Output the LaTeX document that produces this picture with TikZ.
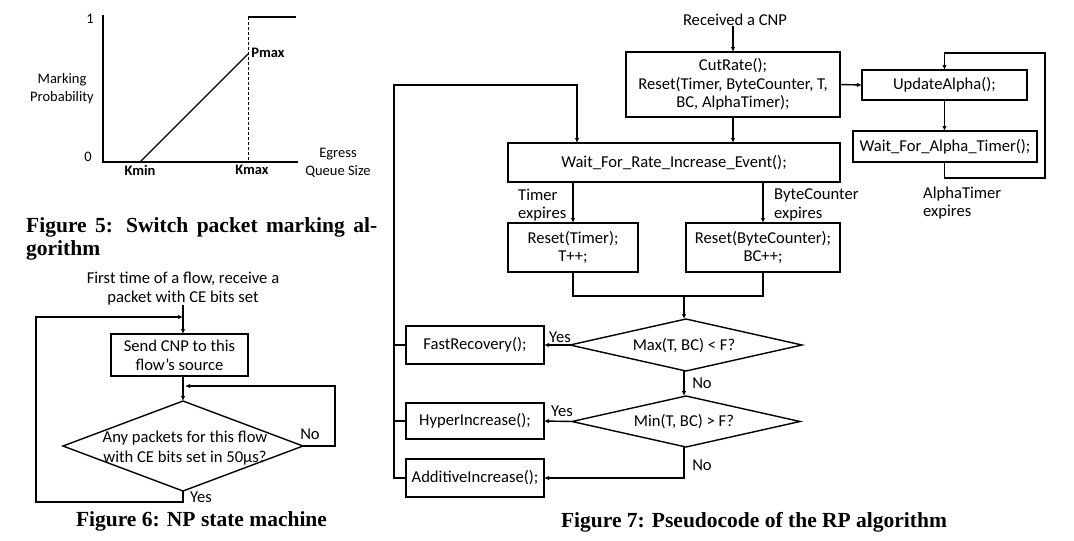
\documentclass[tikz,border=0pt]{standalone}
\usepackage{fontspec}
\setmainfont{Carlito}
\newfontfamily\capfont{Liberation Serif}
\usetikzlibrary{shapes.geometric,arrows.meta,calc}
\begin{document}
\begin{tikzpicture}[x=1pt,y=-1pt,
  every node/.style={font=\fontsize{16.6}{18.6}\selectfont},
  small/.style={font=\fontsize{14.5}{18}\selectfont},
  smallbf/.style={font=\fontsize{14.5}{18}\selectfont\bfseries},
  line/.style={line width=1.4pt},
  arr/.style={line width=1.4pt,-{Latex[length=5pt,width=4.5pt]}},
  box/.style={draw,line width=1.4pt,inner sep=0pt,outer sep=0pt,align=center},
  dia/.style={draw,diamond,line width=1.4pt,inner sep=0pt,outer sep=0pt},
  lbl/.style={inner sep=0pt,align=center},
  capstyle/.style={inner sep=0pt,font=\capfont\bfseries\fontsize{21.5}{24}\selectfont}]
\useasboundingbox (0,0) rectangle (1074,541);
% ---------- Figure 5 ----------
\draw[line width=1.3pt] (103,15) -- (103,162) -- (298,162);
\draw[line width=2.2pt] (103,162) -- (140,162);
\draw[line width=1.4pt] (140,162) -- (248,54);
\draw[line width=0.9pt,dash pattern=on 3pt off 2pt] (248,17) -- (248,162);
\draw[line width=1.4pt] (248,17) -- (296,17);
\node[lbl,small] (one) at (90,19) {1};
\node[lbl,small] (zero) at (88,157) {0};
\node[lbl,small] (mp) at (62,88.5) {Marking\\Probability};
\node[lbl,smallbf] (pmax) at (268,53) {Pmax};
\node[lbl,smallbf] (kmin) at (140,170) {Kmin};
\node[lbl,smallbf] (kmax) at (252,170) {Kmax};
\node[lbl,small] (eqs) at (338,163) {Egress\\Queue Size};
\node[capstyle,anchor=base west] (cap5a) at (26,232) {\makebox[351pt][s]{Figure 5: Switch packet marking al-}};
\node[capstyle,anchor=base west] (cap5b) at (26,255) {gorithm};
% ---------- Figure 6 ----------
\node[lbl] (t6) at (183,288.5) {First time of a flow, receive a\\packet with CE bits set};
\node[box,minimum width=137pt,minimum height=42pt] (b6) at (179.5,355) {Send CNP to this\\flow’s source};
\node[dia,minimum width=240pt,minimum height=90pt] (d6) at (183,446) {};
\node[lbl,font=\fontsize{16.6}{20}\selectfont] (d6t) at (185,448) {Any packets for this flow\\with CE bits set in 50µs?};
\draw[arr] (t6.south -| d6.north) -- (d6.north |- b6.north);
\draw[arr] (d6.north |- b6.south) -- (d6.north);
\coordinate (n6a) at (335,446);
\coordinate (n6b) at (185,386);
\draw[arr] (d6.east) -- (n6a) |- (n6b);
\coordinate (y6a) at (183,502);
\coordinate (y6b) at (36,317);
\coordinate (y6c) at (183,317);
\draw[arr] (d6.south) -- (y6a) -| (y6b) -- (y6c);
\node[lbl] (no6) at (310,434) {No};
\node[lbl] (yes6) at (201,497) {Yes};
\node[capstyle,anchor=base] (cap6) at (201.5,526) {Figure 6: NP state machine};
% ---------- Figure 7 ----------
\node[lbl] (rcv) at (735,20) {Received a CNP};
\node[box,minimum width=214pt,minimum height=65pt] (cut) at (733,84.5) {CutRate();\\Reset(Timer, ByteCounter, T,\\BC, AlphaTimer);};
\node[box,minimum width=165pt,minimum height=30pt] (ua) at (944.5,85) {UpdateAlpha();};
\node[box,minimum width=184pt,minimum height=31pt] (wfat) at (945,146.5) {Wait\_For\_Alpha\_Timer();};
\node[box,minimum width=332pt,minimum height=39pt] (wf) at (674,162.5) {Wait\_For\_Rate\_Increase\_Event();};
\node[box,minimum width=130pt,minimum height=49pt] (rt) at (573,247.5) {Reset(Timer);\\T++;};
\node[box,minimum width=154pt,minimum height=49pt] (rb) at (763,247.5) {Reset(ByteCounter);\\BC++;};
\node[dia,minimum width=232pt,minimum height=52pt] (mx) at (686,345) {};
\node[lbl] (mxt) at (684,346) {Max(T, BC) < F?};
\node[dia,minimum width=228pt,minimum height=51pt] (mn) at (686,421.5) {};
\node[lbl] (mnt) at (684,422) {Min(T, BC) > F?};
\node[box,minimum width=138pt,minimum height=38pt] (fr) at (475,345) {FastRecovery();};
\node[box,minimum width=138pt,minimum height=36pt] (hi) at (475,421) {HyperIncrease();};
\node[box,minimum width=138pt,minimum height=38pt] (ai) at (475,478) {AdditiveIncrease();};
% connectors
\draw[arr] (rcv.south -| cut.north) -- (cut.north);
\draw[arr] (cut.east) -- (ua.west);
\draw[arr] (ua.south) -- (ua.south |- wfat.north);
\coordinate (al1) at (1045,178);
\coordinate (al2) at (1045,53);
\draw[arr] (ua.south |- wfat.south) |- (al1) -- (al2) -| (ua.north);
\node[lbl,align=left,anchor=west] (atx) at (923,203) {AlphaTimer\\expires};
\draw[arr] (cut.south) -- (cut.south |- wf.north);
\draw[arr] (rt.north |- wf.south) -- (rt.north);
\draw[arr] (rb.north |- wf.south) -- (rb.north);
\node[lbl,align=left,anchor=west] (tex) at (518,205) {Timer\\expires};
\node[lbl,align=left,anchor=west] (bex) at (774,205) {ByteCounter\\expires};
\coordinate (mj) at (684,296);
\draw[line] (rt.south) |- (rb.south |- mj) -- (rb.south);
\draw[arr] (mj) -- (mj |- mx.north);
\draw[arr] (mx.west) -- (fr.east);
\node[lbl] (yes1) at (560,337) {Yes};
\draw[arr] (mj |- mx.south) -- (mj |- mn.north);
\node[lbl] (no1) at (702,383) {No};
\draw[arr] (mn.west) -- (hi.east);
\node[lbl] (yes2) at (562,411) {Yes};
\draw[arr] (mj |- mn.south) |- (ai.east);
\node[lbl] (no2) at (702,465) {No};
\coordinate (bt) at (394,85);
\coordinate (bt2) at (577,85);
\draw[arr] (ai.west) -| (bt) -- (bt2) -- (bt2 |- wf.north);
\draw[line] (fr.west) -- (fr.west -| bt);
\draw[line] (hi.west) -- (hi.west -| bt);
\node[capstyle,anchor=base] (cap7) at (754,527) {Figure 7: Pseudocode of the RP algorithm};
\end{tikzpicture}
\end{document}
